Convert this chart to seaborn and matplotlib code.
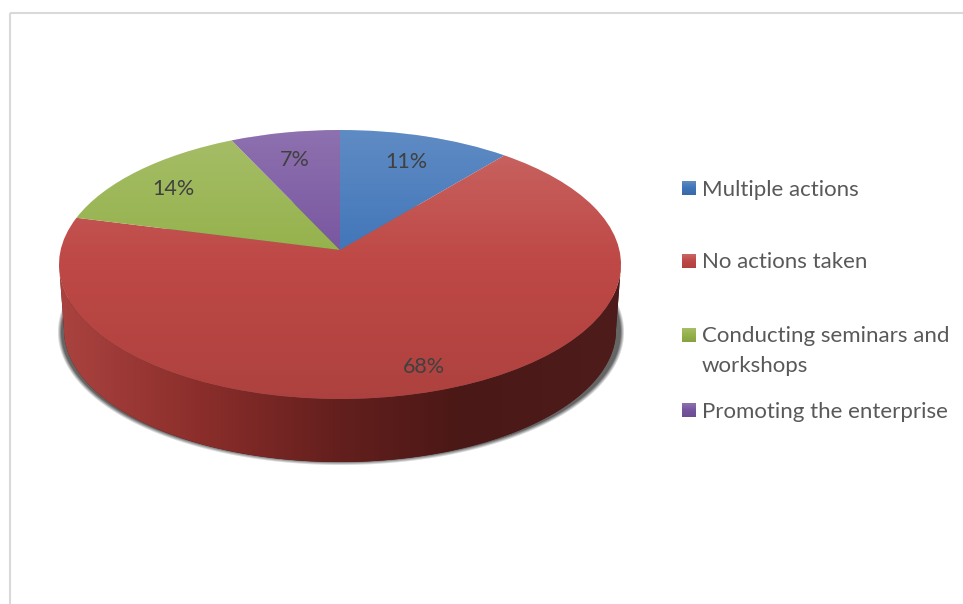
import numpy as np
import matplotlib
matplotlib.use("Agg")
import matplotlib.pyplot as plt
from matplotlib.colors import LinearSegmentedColormap
from matplotlib.patches import Ellipse, Polygon, Rectangle
from matplotlib.transforms import Transform
import seaborn as sns

categories = ["Multiple actions", "No actions taken",
              "Conducting seminars and\nworkshops", "Promoting the enterprise"]
shares = [11, 68, 14, 7]
slice_colors = ["#3F74B8", "#BE4845", "#94B14A", "#77549F"]

# Layout of the tilted disc, in figure pixels
CX, CY, RX, RY, TILT = 340.0, 264.5, 281.0, 134.5, 0.108
BASE_CY, BASE_RX, BASE_RY = 330.0, 276.0, 132.0
LABEL_POS = [(406, 162), (424, 367), (173, 189), (295, 160)]
LEGEND_ROWS = [188, 261, 335, 410]

sns.set_theme(style="white")
plt.rcParams["font.family"] = ["Lato", "DejaVu Sans"]
palette = sns.color_palette(slice_colors)


class DiscProjection(Transform):
    """Perspective view of the unit disc, given in pixels."""
    input_dims = 2
    output_dims = 2

    def transform_non_affine(self, values):
        values = np.asarray(values, dtype=float)
        u, v = values[:, 0], values[:, 1]
        w = 1 + TILT * v
        x = np.sqrt(1 - TILT ** 2) * u / w
        y = (v + TILT) / w
        return np.column_stack([CX + RX * x, CY - RY * y])


fig = plt.figure(figsize=(9.63, 6.04), dpi=100)
ax = fig.add_axes([0, 0, 1, 1])

wedges, _ = ax.pie(shares, colors=palette, startangle=90, counterclock=False,
                   wedgeprops={"linewidth": 0, "zorder": 1})
ax.set_aspect("auto")
projection = DiscProjection() + ax.transData
for wedge in wedges:
    wedge.set_transform(projection)

# Soft drop shadow beneath the disc
shadow_cx, shadow_cy, shadow_rx, shadow_ry = 341.0, 332.0, 281.5, 131.5
gx, gy = np.meshgrid(np.arange(30, 650) + 0.5, np.arange(190, 490) + 0.5)
dx, dy = gx - shadow_cx, gy - shadow_cy
radial = np.hypot(dx / shadow_rx, dy / shadow_ry)
slope = np.hypot(dx / shadow_rx ** 2, dy / shadow_ry ** 2) / radial
distance = (radial - 1) / slope
shadow = np.zeros(gx.shape + (4,))
shadow[..., :3] = 0.25
shadow[..., 3] = 0.8 * np.clip(0.5 - distance / 4, 0, 1)
ax.imshow(shadow, extent=(30, 650, 490, 190), aspect="auto", zorder=0.5,
          interpolation="bilinear")

# Side wall of the disc, shaded from left to right
angles = np.linspace(0, np.pi, 200)
rim = np.column_stack([CX + RX * np.cos(angles[::-1]), CY + RY * np.sin(angles[::-1])])
base = np.column_stack([CX + BASE_RX * np.cos(angles), BASE_CY + BASE_RY * np.sin(angles)])
wall = Polygon(np.vstack([rim, base]), closed=True, facecolor="#4C1A18",
               edgecolor="none", zorder=0.6)
ax.add_patch(wall)
wall_cmap = LinearSegmentedColormap.from_list(
    "wall", [(0, "#AA4340"), (0.25, "#8B2E2B"), (0.5, "#631F1D"),
             (0.72, "#4A1816"), (1, "#4E1C1A")])
wall_image = ax.imshow(np.linspace(0, 1, 256)[None, :], cmap=wall_cmap, aspect="auto",
                       extent=(CX - RX, CX + RX, 470, 260), zorder=0.7)
wall_image.set_clip_path(wall)

# Vertical sheen across the top face
rows = np.linspace(0, 1, 270)
sheen = np.zeros((270, 1, 4))
white_part = np.clip(1 - rows / 0.5, 0, 1)
dark_part = np.clip((rows - 0.5) / 0.5, 0, 1)
sheen[..., 0:3] = (white_part > 0)[:, None, None]
sheen[..., 3] = (0.17 * white_part + 0.09 * dark_part)[:, None]
face = Ellipse((CX, CY), 2 * RX, 2 * RY, facecolor="none", edgecolor="none", zorder=1)
ax.add_patch(face)
sheen_image = ax.imshow(sheen, aspect="auto", zorder=2,
                        extent=(CX - RX, CX + RX, CY + RY, CY - RY))
sheen_image.set_clip_path(face)

for value, (px, py) in zip(shares, LABEL_POS):
    ax.text(px, py, f"{value}%", ha="center", va="center", fontsize=15.5,
            color="#404040", zorder=3)

# Legend entries sit in cells of equal height, so they are placed row by row
for label, color, row in zip(categories, palette, LEGEND_ROWS):
    ax.add_patch(Rectangle((682, row - 7), 14, 14, facecolor=color,
                           edgecolor="none", zorder=3))
    ax.imshow(sheen, aspect="auto", zorder=4, extent=(682, 696, row + 7, row - 7))
    ax.text(702, row - 8.5, label, ha="left", va="top", fontsize=16, color="#595959",
            linespacing=1.6, zorder=3)

# Chart frame, running off the right and bottom of the canvas
ax.add_patch(Rectangle((10, 13), 1100, 800, fill=False, edgecolor="#D9D9D9",
                       linewidth=1.5, zorder=0.1))

ax.set_xlim(0, 963)
ax.set_ylim(604, 0)
ax.set_axis_off()
fig.savefig("out.png", dpi=100, facecolor="white")
